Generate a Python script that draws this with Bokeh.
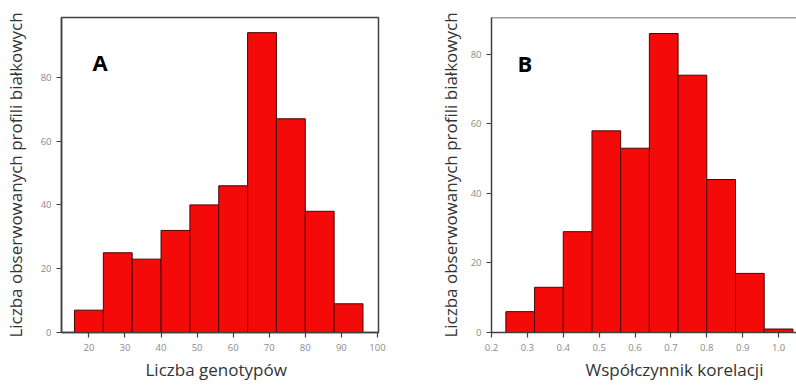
from bokeh.plotting import figure
from bokeh.layouts import row
from bokeh.models import FixedTicker, Label, Span, NumeralTickFormatter, Title
from bokeh.embed import file_html
from bokeh.resources import INLINE

# Panel A: number of genotypes per protein profile
genotype_edges = [16, 24, 32, 40, 48, 56, 64, 72, 80, 88, 96]
genotype_counts = [7, 25, 23, 32, 40, 46, 94, 67, 38, 9]
genotype_ticks = [20, 30, 40, 50, 60, 70, 80, 90, 100]

# Panel B: correlation coefficient distribution
corr_edges = [0.24, 0.32, 0.40, 0.48, 0.56, 0.64, 0.72, 0.80, 0.88, 0.96, 1.04]
corr_counts = [6, 13, 29, 58, 53, 86, 74, 44, 17, 1]
corr_ticks = [0.2, 0.3, 0.4, 0.5, 0.6, 0.7, 0.8, 0.9, 1.0]

count_ticks = [0, 20, 40, 60, 80]

Y_LABEL = "Liczba obserwowanych profili białkowych"
BAR_FILL = "#f50a0a"
BAR_LINE = "#4a0505"
AXIS_COLOR = "#404040"
FONT = "Open Sans"


def style_axes(p, ylabel_standoff):
    for ax in (p.xaxis[0], p.yaxis[0]):
        ax.axis_line_color = AXIS_COLOR
        ax.axis_line_width = 1.5
        ax.major_tick_line_color = AXIS_COLOR
        ax.major_tick_line_width = 1.2
        ax.major_tick_out = 5
        ax.major_tick_in = 0
        ax.minor_tick_line_color = None
        ax.major_label_text_color = "#8a8a8a"
        ax.major_label_text_font = FONT
        ax.major_label_text_font_size = "9.5px"
        ax.axis_label_text_font = FONT
        ax.axis_label_text_font_style = "normal"
        ax.axis_label_text_color = "#333333"
        ax.axis_label_text_font_size = "17px"
    p.yaxis.axis_label = Y_LABEL
    p.xaxis.major_label_standoff = 6
    p.yaxis.major_label_standoff = 5
    p.yaxis.axis_label_standoff = ylabel_standoff
    p.xgrid.grid_line_color = None
    p.ygrid.grid_line_color = None


def x_title(p, text, offset):
    # x-axis title set under the tick labels, shifted along from the frame's left edge
    p.add_layout(Title(text=text, align="left", offset=offset, standoff=4,
                       text_font=FONT, text_font_size="17px",
                       text_font_style="normal", text_color="#333333"), "below")


def panel_letter(p, text, x, y):
    p.add_layout(Label(x=x, y=y, text=text, text_font=FONT, text_font_style="bold",
                       text_font_size="22px", text_color="black",
                       text_baseline="alphabetic"))


# ---- Panel A ----
pA = figure(width=400, height=385, x_range=(12.4, 100.3), y_range=(0, 98.75),
            output_backend="svg", toolbar_location=None,
            min_border_left=61, min_border_right=22,
            min_border_top=17, min_border_bottom=51)
pA.quad(left=genotype_edges[:-1], right=genotype_edges[1:], top=genotype_counts,
        bottom=0, fill_color=BAR_FILL, line_color=BAR_LINE, line_width=1)
style_axes(pA, 11)
pA.xaxis.ticker = FixedTicker(ticks=genotype_ticks)
pA.yaxis.ticker = FixedTicker(ticks=count_ticks)
pA.outline_line_color = AXIS_COLOR
pA.outline_line_width = 1.5
panel_letter(pA, "A", 21, 84.7)
x_title(pA, "Liczba genotypów", 84)

# ---- Panel B ----
pB = figure(width=396, height=385, x_range=(0.2, 1.05), y_range=(0, 90.6),
            output_backend="svg", toolbar_location=None,
            min_border_left=91, min_border_right=0,
            min_border_top=14, min_border_bottom=53)
pB.quad(left=corr_edges[:-1], right=corr_edges[1:], top=corr_counts,
        bottom=0, fill_color=BAR_FILL, line_color=BAR_LINE, line_width=1)
style_axes(pB, 6)
pB.xaxis.ticker = FixedTicker(ticks=corr_ticks)
pB.xaxis.formatter = NumeralTickFormatter(format="0.0")
pB.yaxis.ticker = FixedTicker(ticks=count_ticks)
pB.outline_line_color = None
pB.add_layout(Span(location=90.6, dimension="width", line_color=AXIS_COLOR,
                   line_width=1.5))
panel_letter(pB, "B", 0.2725, 77.5)
x_title(pB, "Współczynnik korelacji", 94)

layout = row(pA, pB, spacing=0)
open("out.html", "w").write(file_html(layout, INLINE))
